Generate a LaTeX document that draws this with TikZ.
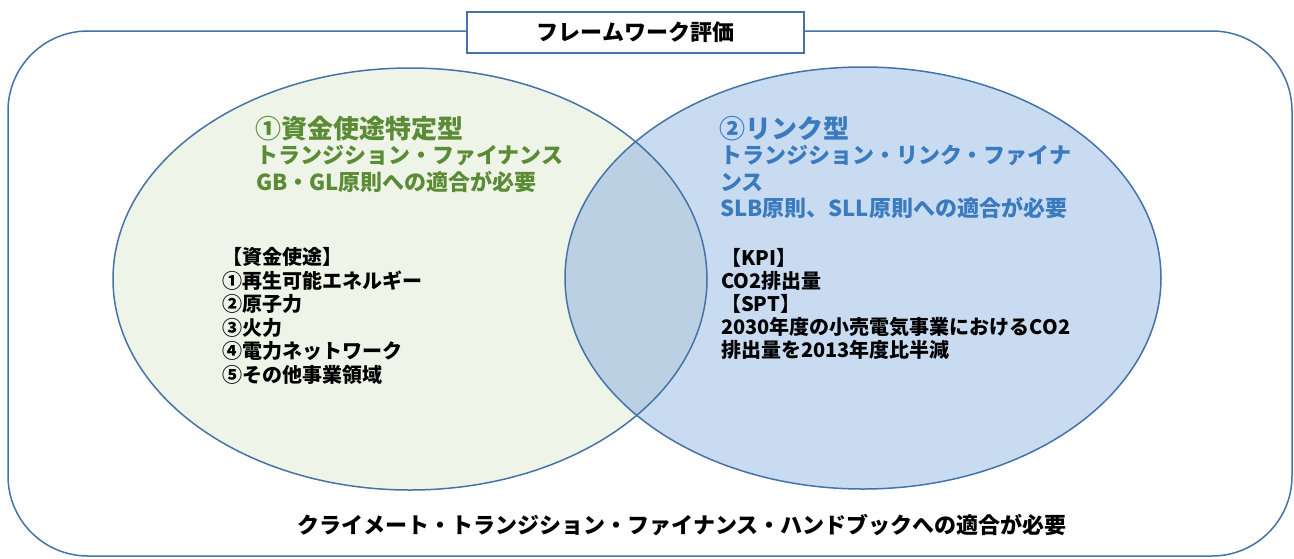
\documentclass[tikz,border=0pt]{standalone}
\usepackage{fontspec}
\setmainfont{Noto Sans CJK JP}
\definecolor{edge}{HTML}{4573A8}
\definecolor{gfill}{HTML}{EEF4E8}
\definecolor{bfill}{HTML}{C8DBF0}
\definecolor{ofill}{HTML}{BBD1E3}
\definecolor{gtext}{HTML}{5B8B34}
\definecolor{btext}{HTML}{3A7ABF}
\tikzset{
  shapeline/.style={draw=edge, line width=1.5pt},
  gtitle/.style={anchor=base west, inner sep=0pt, text=gtext, font=\fontsize{26}{30}\selectfont\bfseries},
  gsub/.style={anchor=base west, inner sep=0pt, text=gtext, font=\fontsize{22}{26}\selectfont\bfseries},
  btitle/.style={anchor=base west, inner sep=0pt, text=btext, font=\fontsize{26}{30}\selectfont\bfseries},
  bsub/.style={anchor=base west, inner sep=0pt, text=btext, font=\fontsize{22}{26}\selectfont\bfseries},
  body/.style={anchor=base west, inner sep=0pt, text=black, font=\fontsize{20}{24}\selectfont\bfseries},
  bigbody/.style={inner sep=0pt, text=black, font=\fontsize{22}{26}\selectfont\bfseries}
}
\begin{document}
\begin{tikzpicture}[x=1pt,y=-1pt]
\useasboundingbox (0,0) rectangle (1294,558);
\fill[white] (0,0) rectangle (1294,558);
% outer frame
\draw[shapeline, rounded corners=80pt] (8,31) rectangle (1292,556);
% ellipses
\fill[gfill] (410,279) ellipse [x radius=297pt, y radius=211pt];
\fill[bfill] (863,278) ellipse [x radius=298pt, y radius=211pt];
\begin{scope}
  \clip (410,279) ellipse [x radius=297pt, y radius=211pt];
  \fill[ofill] (863,278) ellipse [x radius=298pt, y radius=211pt];
\end{scope}
\draw[shapeline] (410,279) ellipse [x radius=297pt, y radius=211pt];
\draw[shapeline] (863,278) ellipse [x radius=298pt, y radius=211pt];
% title box
\node[shapeline, fill=white, minimum width=337pt, minimum height=41pt, inner sep=0pt,
      font=\fontsize{22}{26}\selectfont\bfseries] (title) at (635.5,32.5) {フレームワーク評価};
% left texts
\node[gtitle] (l1) at (255,138) {①資金使途特定型};
\node[gsub] (l2) at (256,163.5) {トランジション・ファイナンス};
\node[gsub] (l3) at (256,190.5) {GB・GL原則への適合が必要};
\node[body] (lb0) at (222,264.5) {【資金使途】};
\node[body] (lb1) at (222,288) {①再生可能エネルギー};
\node[body] (lb2) at (222,311.5) {②原子力};
\node[body] (lb3) at (222,335) {③火力};
\node[body] (lb4) at (222,358.5) {④電力ネットワーク};
\node[body] (lb5) at (222,382) {⑤その他事業領域};
% right texts
\node[btitle] (r1) at (719,138) {②リンク型};
\node[bsub] (r2) at (720,163.5) {トランジション・リンク・ファイナ};
\node[bsub] (r3) at (720,190.5) {ンス};
\node[bsub] (r4) at (720,216.5) {SLB原則、SLL原則への適合が必要};
\node[body] (rb0) at (721,265.5) {【KPI】};
\node[body] (rb1) at (721,288.5) {CO2排出量};
\node[body] (rb2) at (721,311.5) {【SPT】};
\node[body] (rb3) at (721,334.5) {2030年度の小売電気事業におけるCO2};
\node[body] (rb4) at (721,357.5) {排出量を2013年度比半減};
% bottom
\node[bigbody, anchor=base] (bottom) at (682,533) {クライメート・トランジション・ファイナンス・ハンドブックへの適合が必要};
\end{tikzpicture}
\end{document}
